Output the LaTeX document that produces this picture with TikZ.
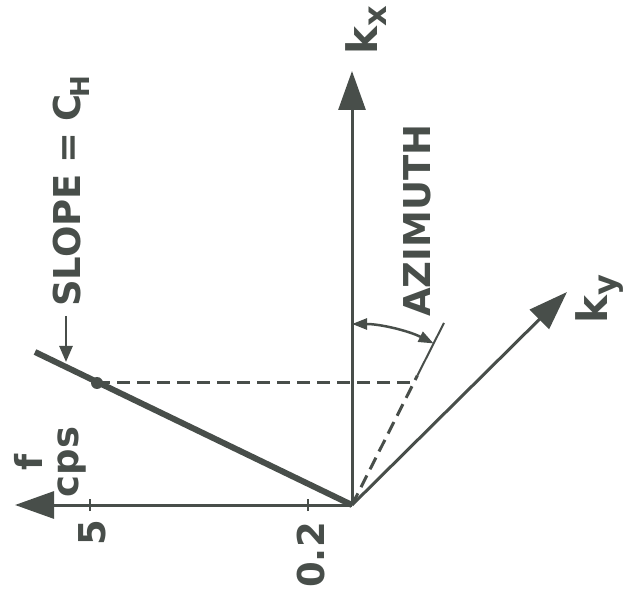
\documentclass[tikz,border=0pt]{standalone}
\usepackage{fontspec}
\setmainfont{DejaVu Sans}
\usetikzlibrary{arrows.meta}
\definecolor{ink}{RGB}{72,78,74}
\newcommand{\ksub}[1]{k\raisebox{-9pt}{\fontsize{32}{32}\selectfont #1}}
\begin{document}
\begin{tikzpicture}[x=1pt,y=1pt,
  axis/.style={ink,line width=3pt,-{Triangle[length=39pt,width=27pt]}},
  guide/.style={ink,line width=3pt,dash pattern=on 13pt off 7pt},
  lbl/.style={ink,font=\fontsize{37}{40}\selectfont\bfseries,rotate=90,inner sep=0pt},
  bothtips/.style={{Triangle[length=15pt,width=11pt]}-{Triangle[length=15pt,width=11pt]}}]
\useasboundingbox (0,0) rectangle (634,600);
\coordinate (o) at (352,95);
\coordinate (kx) at (352,529);
\coordinate (ky) at (567,308);
\coordinate (f) at (15,95);
\coordinate (s) at (35,248);
\coordinate (d) at (97,217);
\coordinate (c) at (414,217);
\coordinate (az1) at ([shift={(63.2:145)}]o);
\coordinate (az2) at ([shift={(63.2:204)}]o);
\coordinate (arcstart) at ([shift={(90:181)}]o);
\coordinate (t5) at (90,95);
\coordinate (t02) at (308,95);
\coordinate (slopept) at (66,238);
\coordinate (slopefoot) at (66,284);

\draw[axis] (o) -- (kx);
\draw[axis] (o) -- (f);
\draw[axis] (o) -- (ky);
\draw[ink,line width=6pt] (o) -- (s);
\fill[ink] (d) circle (6);
\draw[guide] (d) -- (c);
\draw[guide] (o) -- (az1);
\draw[ink,line width=2pt] (az1) -- (az2);
\draw[ink,line width=2.5pt,bothtips] (arcstart) arc[start angle=90,end angle=63.2,radius=181];
\draw[ink,line width=2.5pt] ([yshift=-6pt]t5) -- ([yshift=6pt]t5);
\draw[ink,line width=2.5pt] ([yshift=-6pt]t02) -- ([yshift=6pt]t02);

\node[lbl,font=\fontsize{42}{44}\selectfont\bfseries,anchor=base west] (kxl) at (377,545) {\ksub{x}};
\node[lbl,font=\fontsize{42}{44}\selectfont\bfseries,anchor=base west] (kyl) at (607,276) {\ksub{y}};
\node[lbl,align=center] (fl) at (50,138) {f\\[-4pt]cps};
\node[lbl] (five) at (92,67) {5};
\node[lbl] (point2) at (311,45) {0.2};
\node[lbl,anchor=base west] (slope) at (80,293) {SLOPE\hspace{-2pt} = \hspace{-2pt}C\hspace{-3pt}\raisebox{-9pt}{\fontsize{26}{26}\selectfont H}};
\node[lbl,anchor=base west] (azimuth) at (430,283) {AZIMUTH};
\draw[ink,line width=2.5pt,-{Triangle[length=16pt,width=13pt]}] (slopefoot) -- (slopept);
\end{tikzpicture}
\end{document}
